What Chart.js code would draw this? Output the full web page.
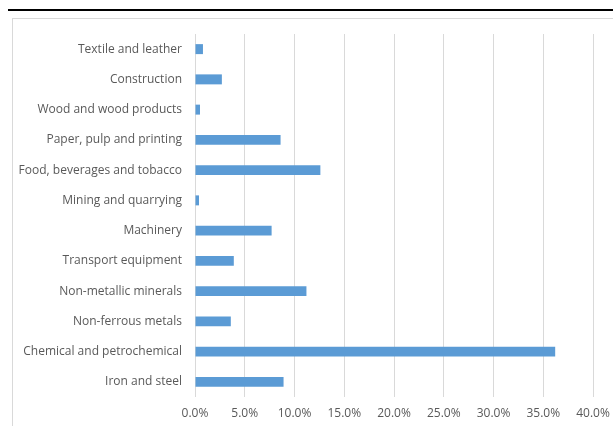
<!DOCTYPE html>
<html lang="en">
<head>
    <meta charset="UTF-8">
    <title>Energy use by industry sector</title>
    <script src="https://cdn.jsdelivr.net/npm/chart.js@4.4.0/dist/chart.umd.min.js"></script>
    <style>
        body {
            margin: 0;
            background: #fff;
            width: 613px;
            height: 426px;
            overflow: hidden;
            position: relative;
        }
        .rule {
            position: absolute;
            left: 8px;
            right: 0;
            top: 9px;
            height: 2px;
            background: #000;
        }
        .box {
            position: absolute;
            left: 12px;
            top: 18px;
            width: 640px;
            height: 440px;
            border: 1px solid #d9d9d9;
        }
        #chart {
            position: absolute;
            left: 0;
            top: 0;
        }
    </style>
</head>
<body>
    <div class="rule"></div>
    <div class="box"></div>
    <canvas id="chart" width="613" height="426"></canvas>

    <script>
        // sectors, top to bottom as drawn
        const sectors = [
            'Textile and leather',
            'Construction',
            'Wood and wood products',
            'Paper, pulp and printing',
            'Food, beverages and tobacco',
            'Mining and quarrying',
            'Machinery',
            'Transport equipment',
            'Non-metallic minerals',
            'Non-ferrous metals',
            'Chemical and petrochemical',
            'Iron and steel'
        ];
        // share in percent
        const shares = [0.8, 2.7, 0.5, 8.6, 12.6, 0.4, 7.7, 3.9, 11.2, 3.6, 36.2, 8.9];

        const labelFont = { family: "'Open Sans', sans-serif", size: 12 };

        new Chart(document.getElementById('chart'), {
            type: 'bar',
            data: {
                labels: sectors,
                datasets: [{
                    data: shares,
                    backgroundColor: '#5b9bd5',
                    borderWidth: 0,
                    categoryPercentage: 0.5,
                    barPercentage: 0.66
                }]
            },
            options: {
                indexAxis: 'y',
                responsive: false,
                animation: false,
                layout: { padding: { top: 34, right: 0, left: 0, bottom: 0 } },
                plugins: {
                    legend: { display: false },
                    tooltip: { enabled: false }
                },
                scales: {
                    x: {
                        min: 0,
                        max: 40,
                        ticks: {
                            stepSize: 5,
                            color: '#595959',
                            font: labelFont,
                            padding: 9,
                            callback: function(v) { return v.toFixed(1) + '%'; }
                        },
                        grid: { color: '#d9d9d9', lineWidth: 1, drawTicks: false },
                        border: { display: false },
                        afterFit: function(s) {
                            s.height = 29;
                            s.paddingRight = 20; // let the 40% line sit where the reference has it
                        }
                    },
                    y: {
                        ticks: { color: '#595959', font: labelFont, padding: 13 },
                        grid: { display: false, drawTicks: false },
                        border: { display: false },
                        afterFit: function(s) { s.width = 195; }
                    }
                }
            }
        });
    </script>
</body>
</html>
